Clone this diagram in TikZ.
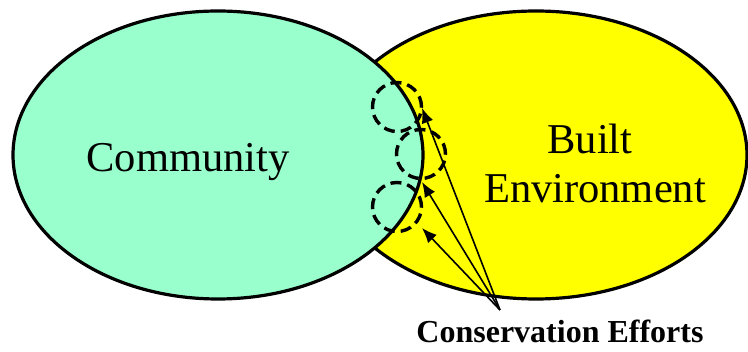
\documentclass[tikz,border=0pt]{standalone}
\usepackage{fontspec}
\setmainfont{Liberation Serif}
\usetikzlibrary{shapes.geometric,arrows.meta}
\definecolor{commgreen}{RGB}{153,255,204}
\definecolor{builtyellow}{RGB}{255,255,0}
\tikzset{
  region/.style={ellipse, draw=black, line width=3.2pt, inner sep=0pt},
  bigtext/.style={anchor=base, inner sep=0pt, font=\fontsize{42.5}{48}\selectfont},
  labeltext/.style={anchor=base, inner sep=0pt, font=\fontsize{32}{38}\selectfont\bfseries},
  effort/.style={circle, draw=black, line width=3.4pt, dash pattern=on 11pt off 6pt, minimum size=49pt, inner sep=0pt},
  pointer/.style={line width=1.6pt, -{Latex[length=15pt,width=12pt]}}
}
\begin{document}
\begin{tikzpicture}[x=1pt,y=-1pt]
\useasboundingbox (0,0) rectangle (748,352);
\node[region, fill=builtyellow, minimum width=422pt, minimum height=288pt] (built) at (536,155) {};
\node[region, fill=commgreen, minimum width=410pt, minimum height=288pt] (comm) at (218,155) {};
\node[bigtext] (commtext) at (188,172) {Community};
\node[bigtext] (builttext) at (590,154) {Built};
\node[bigtext] (envtext) at (595,203) {Environment};
\node[effort] (c1) at (397,107) {};
\node[effort] (c2) at (421,154) {};
\node[effort] (c3) at (397,207) {};
\coordinate (o) at (500,310);
\coordinate (t1) at (422,108);
\coordinate (t2) at (422,182);
\coordinate (t3) at (422,228);
\draw[pointer] (o) -- (t1);
\draw[pointer] (o) -- (t2);
\draw[pointer] (o) -- (t3);
\node[labeltext] (cons) at (560,343) {Conservation Efforts};
\end{tikzpicture}
\end{document}
